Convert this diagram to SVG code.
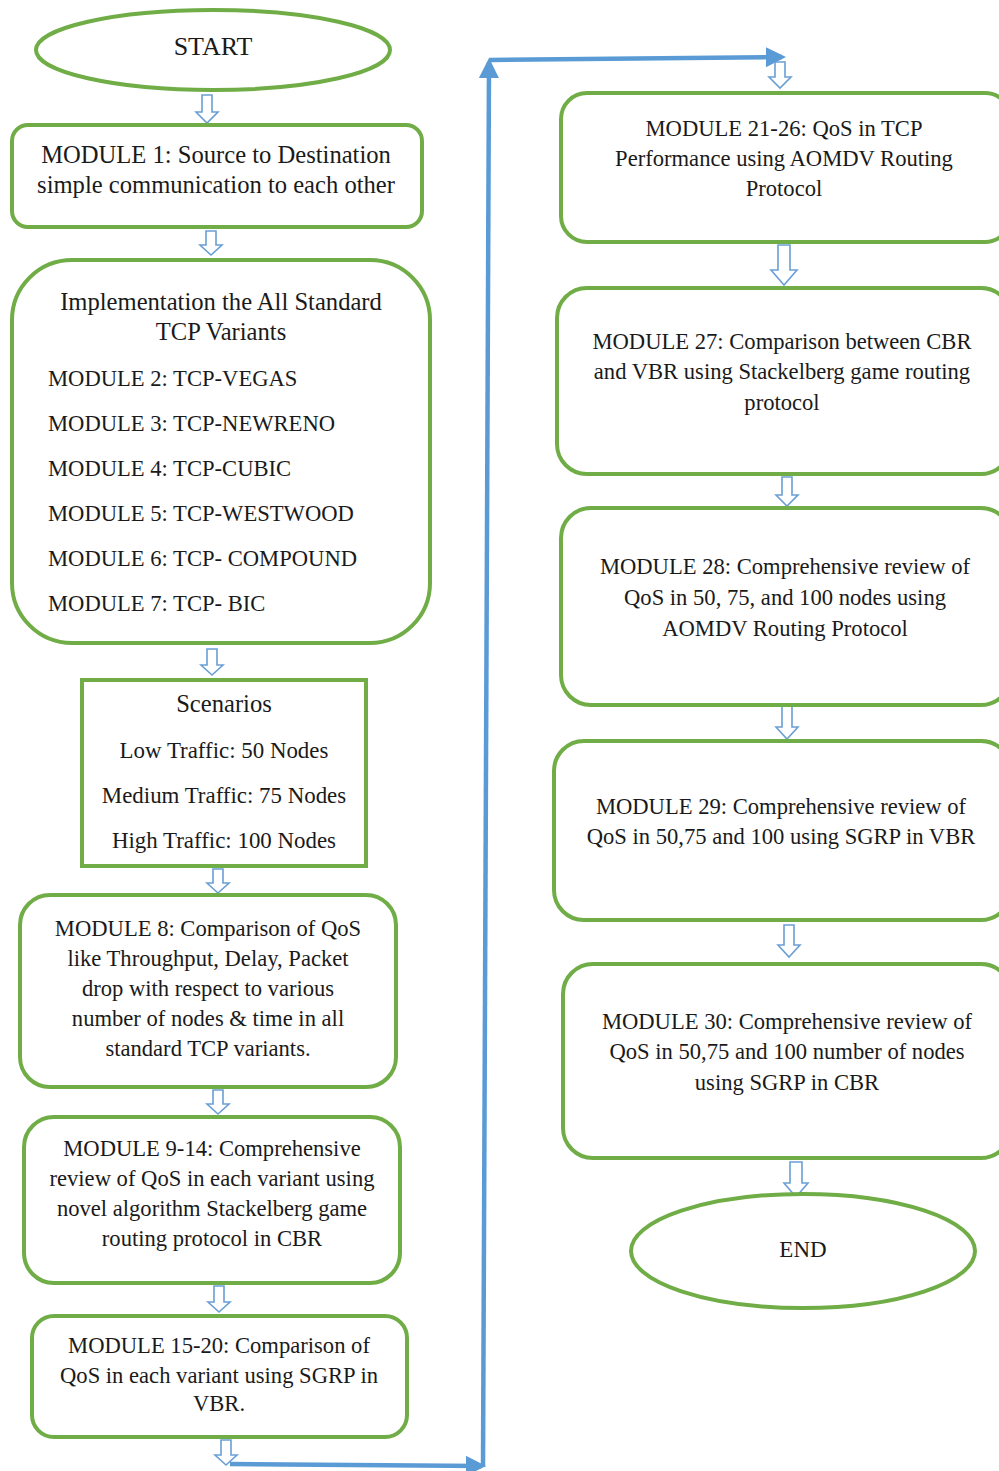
<svg xmlns="http://www.w3.org/2000/svg" width="999" height="1471" viewBox="0 0 999 1471">
  <defs>
    <style>
      .node { fill: #ffffff; stroke: #70ad47; stroke-width: 4; }
      .t { font-family: "Liberation Serif", "Times New Roman", serif; font-size: 22.6px; fill: #1a1a1a; }
      .big { font-size: 24.6px; }
      .mid { font-size: 22.9px; }
      .c { text-anchor: middle; }
      .hollow { fill: #ffffff; stroke: #6a9fd4; stroke-width: 1.6; stroke-linejoin: miter; }
      .flow { fill: none; stroke: #5b9bd5; stroke-width: 4.5; }
    </style>
    <marker id="head" viewBox="0 0 10 10" refX="8" refY="5" markerWidth="4.5" markerHeight="4.5" orient="auto" markerUnits="strokeWidth">
      <path d="M0,0 L10,5 L0,10 z" fill="#5b9bd5"/>
    </marker>
  </defs>
  <rect width="999" height="1471" fill="#ffffff"/>

  <!-- connectors: hollow block arrows and the blue return path -->
  <g id="connectors">
    <path class="hollow" d="M202,95 H212 V112 H218 L207,123 L196,112 H202 Z"/>
    <path class="hollow" d="M206,231 H216 V245 H222 L211,255 L200,245 H206 Z"/>
    <path class="hollow" d="M207,649 H217 V665 H223 L212,675 L201,665 H207 Z"/>
    <path class="hollow" d="M213,869 H223 V883 H229 L218,893 L207,883 H213 Z"/>
    <path class="hollow" d="M213,1090 H223 V1104 H229 L218,1114 L207,1104 H213 Z"/>
    <path class="hollow" d="M214,1286 H224 V1302 H230 L219,1312 L208,1302 H214 Z"/>
    <path class="hollow" d="M221,1440 H231 V1455 H237 L226,1465 L215,1455 H221 Z"/>
    <path class="flow" d="M230,1464 L482,1466" marker-end="url(#head)"/>
    <path class="flow" d="M483,1467 L489,62" marker-end="url(#head)"/>
    <path class="flow" d="M489,60 L782,57" marker-end="url(#head)"/>
    <path class="hollow" d="M775,62 H785 V77 H791 L780,88 L769,77 H775 Z"/>
    <path class="hollow" d="M778,245 H790 V270 H797 L784,285 L771,270 H778 Z"/>
    <path class="hollow" d="M782,477 H792 V495 H798 L787,506 L776,495 H782 Z"/>
    <path class="hollow" d="M782,706 H792 V727 H798 L787,739 L776,727 H782 Z"/>
    <path class="hollow" d="M784,925 H794 V945 H800 L789,957 L778,945 H784 Z"/>
    <path class="hollow" d="M790,1162 H802 V1183 H808 L796,1197 L784,1183 H790 Z"/>
  </g>

  <g id="start">
    <ellipse class="node" cx="213" cy="50" rx="177" ry="40"/>
    <text class="t c" x="213" y="55" style="font-size:26px">START</text>
  </g>

  <g id="module1">
    <rect class="node" x="12" y="125" width="410" height="102" rx="16"/>
    <text class="t big c" x="216" y="163">MODULE 1: Source to Destination</text>
    <text class="t big c" x="216" y="193">simple communication to each other</text>
  </g>

  <g id="tcp-variants">
    <rect class="node" x="12" y="260" width="418" height="383" rx="60"/>
    <text class="t big c" x="221" y="310">Implementation the All Standard</text>
    <text class="t big c" x="221" y="340">TCP Variants</text>
    <text class="t" x="48" y="386">MODULE 2: TCP-VEGAS</text>
    <text class="t" x="48" y="431">MODULE 3: TCP-NEWRENO</text>
    <text class="t" x="48" y="476">MODULE 4: TCP-CUBIC</text>
    <text class="t" x="48" y="521">MODULE 5: TCP-WESTWOOD</text>
    <text class="t" x="48" y="566">MODULE 6: TCP- COMPOUND</text>
    <text class="t" x="48" y="611">MODULE 7: TCP- BIC</text>
  </g>

  <g id="scenarios">
    <rect class="node" x="82" y="680" width="284" height="186"/>
    <text class="t big c" x="224" y="712">Scenarios</text>
    <text class="t mid c" x="224" y="758">Low Traffic: 50 Nodes</text>
    <text class="t mid c" x="224" y="803">Medium Traffic: 75 Nodes</text>
    <text class="t mid c" x="224" y="848">High Traffic: 100 Nodes</text>
  </g>

  <g id="module8">
    <rect class="node" x="20" y="895" width="376" height="192" rx="30"/>
    <text class="t c" x="208" y="936">MODULE 8: Comparison of QoS</text>
    <text class="t c" x="208" y="966">like Throughput, Delay, Packet</text>
    <text class="t c" x="208" y="996">drop with respect to various</text>
    <text class="t c" x="208" y="1026">number of nodes &amp; time in all</text>
    <text class="t c" x="208" y="1056">standard TCP variants.</text>
  </g>

  <g id="module9-14">
    <rect class="node" x="24" y="1117" width="376" height="166" rx="30"/>
    <text class="t c" x="212" y="1156">MODULE 9-14: Comprehensive</text>
    <text class="t c" x="212" y="1186">review of QoS in each variant using</text>
    <text class="t c" x="212" y="1216">novel algorithm Stackelberg game</text>
    <text class="t c" x="212" y="1246">routing protocol in CBR</text>
  </g>

  <g id="module15-20">
    <rect class="node" x="32" y="1316" width="375" height="121" rx="22"/>
    <text class="t c" x="219" y="1353">MODULE 15-20: Comparison of</text>
    <text class="t c" x="219" y="1383">QoS in each variant using SGRP in</text>
    <text class="t c" x="219" y="1411">VBR.</text>
  </g>

  <g id="module21-26">
    <rect class="node" x="561" y="93" width="450" height="149" rx="26"/>
    <text class="t c" x="784" y="136">MODULE 21-26: QoS in TCP</text>
    <text class="t c" x="784" y="166">Performance using AOMDV Routing</text>
    <text class="t c" x="784" y="196">Protocol</text>
  </g>

  <g id="module27">
    <rect class="node" x="557" y="288" width="454" height="186" rx="30"/>
    <text class="t c" x="782" y="349">MODULE 27: Comparison between CBR</text>
    <text class="t c" x="782" y="379">and VBR using Stackelberg game routing</text>
    <text class="t c" x="782" y="410">protocol</text>
  </g>

  <g id="module28">
    <rect class="node" x="561" y="508" width="450" height="197" rx="30"/>
    <text class="t c" x="785" y="574">MODULE 28: Comprehensive review of</text>
    <text class="t c" x="785" y="605">QoS in 50, 75, and 100 nodes using</text>
    <text class="t c" x="785" y="636">AOMDV Routing Protocol</text>
  </g>

  <g id="module29">
    <rect class="node" x="554" y="741" width="457" height="179" rx="30"/>
    <text class="t c" x="781" y="814">MODULE 29: Comprehensive review of</text>
    <text class="t c" x="781" y="844">QoS in 50,75 and 100 using SGRP in VBR</text>
  </g>

  <g id="module30">
    <rect class="node" x="563" y="964" width="448" height="194" rx="30"/>
    <text class="t c" x="787" y="1029">MODULE 30: Comprehensive review of</text>
    <text class="t c" x="787" y="1059">QoS in 50,75 and 100 number of nodes</text>
    <text class="t c" x="787" y="1090">using SGRP in CBR</text>
  </g>

  <g id="end">
    <ellipse class="node" cx="803" cy="1251" rx="172" ry="57"/>
    <text class="t c" x="803" y="1257" style="font-size:23px">END</text>
  </g>
</svg>
